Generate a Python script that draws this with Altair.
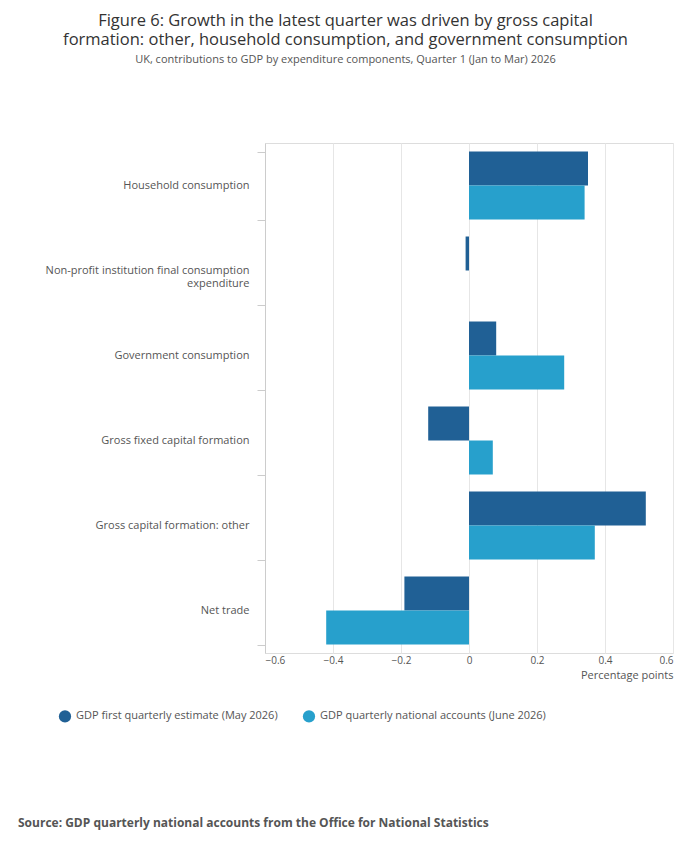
import altair as alt
import pandas as pd

cats = ["Household consumption", "Non-profit institution final consumption expenditure",
        "Government consumption", "Gross fixed capital formation",
        "Gross capital formation: other", "Net trade"]
series = ["GDP first quarterly estimate (May 2026)", "GDP quarterly national accounts (June 2026)"]
first = [0.35, -0.01, 0.08, -0.12, 0.52, -0.19]
qna = [0.34, 0.0, 0.28, 0.07, 0.37, -0.42]

rows = []
for c, a, b in zip(cats, first, qna):
    rows.append({"cat": c, "series": series[0], "v": a})
    rows.append({"cat": c, "series": series[1], "v": b})
df = pd.DataFrame(rows)

lab_expr = ("datum.value == 'Non-profit institution final consumption expenditure' ? "
            "['Non-profit institution final consumption', 'expenditure'] : datum.value")

font = "Open Sans"
bars = alt.Chart(df).mark_bar().encode(
    y=alt.Y("cat:N", sort=cats, title=None,
            scale=alt.Scale(paddingInner=0.2, paddingOuter=0.1),
            axis=alt.Axis(labelExpr=lab_expr, tickBand="extent", tickSize=8, tickColor="#ccc",
                          domainColor="#ccc", labelColor="#555", labelFontSize=11, labelPadding=8,
                          labelFont=font, labelLimit=260)),
    x=alt.X("v:Q", title="Percentage points", scale=alt.Scale(domain=[-0.6, 0.6]),
            axis=alt.Axis(values=[-0.6, -0.4, -0.2, 0, 0.2, 0.4, 0.6],
                          labelExpr="datum.value == 0 ? '0' : format(datum.value, '.1f')",
                          grid=True, gridColor="#e6e6e6", domain=False, ticks=False,
                          labelColor="#555", labelFontSize=10, labelFont=font,
                          titleAnchor="end", titleFontWeight="normal", titleColor="#555",
                          titleFontSize=11, titleFont=font)),
    yOffset=alt.YOffset("series:N", sort=series),
    color=alt.Color("series:N", sort=series,
                    scale=alt.Scale(domain=series, range=["#206095", "#27a0cc"]),
                    legend=alt.Legend(title=None, orient="none", legendX=-207, legendY=56 + 510,
                                      direction="horizontal", symbolType="circle", symbolSize=150,
                                      labelFontSize=11, labelColor="#555", labelFont=font,
                                      columnPadding=24, labelLimit=400)),
)

src = alt.Chart(pd.DataFrame({"t": ["Source: GDP quarterly national accounts from the Office for National Statistics"]})).mark_text(
    align="left", baseline="middle", fontWeight="bold", fontSize=12, color="#555", font=font
).encode(x=alt.value(-247), y=alt.value(680), text="t:N")

chart = alt.layer(bars, src).properties(
    width=408, height=510,
    title=alt.TitleParams(
        ["Figure 6: Growth in the latest quarter was driven by gross capital",
         "formation: other, household consumption, and government consumption"],
        subtitle="UK, contributions to GDP by expenditure components, Quarter 1 (Jan to Mar) 2026",
        fontSize=16.5, fontWeight="normal", font=font, color="#333", subtitleFont=font,
        subtitleFontSize=11, subtitleColor="#555", anchor="middle", offset=72,
        frame="bounds", subtitlePadding=6)
).configure_view(stroke=None).configure(background="white", padding={"left": 10, "top": 5, "right": 5, "bottom": 5})

chart.save("out.html", embed_options={"renderer": "svg", "actions": False})
